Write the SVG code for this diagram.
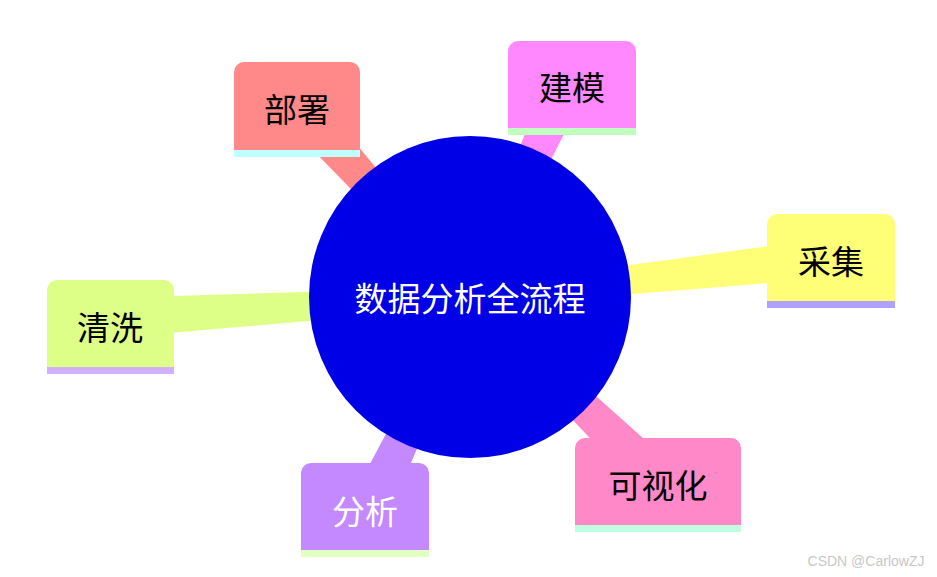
<svg xmlns="http://www.w3.org/2000/svg" width="937" height="577" viewBox="0 0 937 577">
<style>
text{font-family:"Noto Sans CJK SC","Liberation Sans",sans-serif;font-size:33px;text-anchor:middle;dominant-baseline:central}
.d{fill:#000}.w{fill:#fff}
</style>
<rect width="937" height="577" fill="#fff"/>
<g id="connectors">
<polygon points="470.6,307 469.4,287 108.8,298 111.2,338" fill="#ddff88"/>
<polygon points="471,307 469,287 827.8,238.1 832.2,277.9" fill="#ffff77"/>
<polygon points="477.5,290.3 462.5,303.7 287.1,123.4 316.9,96.6" fill="#ff8888"/>
<polygon points="479.1,301.1 460.9,292.9 546.8,79.7 583.2,96.3" fill="#ff88ff"/>
<polygon points="463,304.2 477,289.8 653.9,447.7 626.1,476.3" fill="#ff88c8"/>
<polygon points="461,292.7 479,301.3 393.1,505.6 356.9,488.4" fill="#c488ff"/>
</g>
<g id="center"><circle cx="470" cy="297" r="161" fill="#0000e6"/><text x="470" y="297" class="w">数据分析全流程</text></g>
<g id="bushu"><path d="M234,72a10,10 0 0 1 10,-10h106a10,10 0 0 1 10,10v78h-126z" fill="#ff8888"/><rect x="234" y="150" width="126" height="7" fill="#c0ffff"/><text x="297" y="108" class="d">部署</text></g>
<g id="jianmo"><path d="M508,51a10,10 0 0 1 10,-10h108a10,10 0 0 1 10,10v77h-128z" fill="#ff88ff"/><rect x="508" y="128" width="128" height="7" fill="#c0ffc0"/><text x="572" y="86" class="d">建模</text></g>
<g id="caiji"><path d="M767,224a10,10 0 0 1 10,-10h108a10,10 0 0 1 10,10v77h-128z" fill="#ffff77"/><rect x="767" y="301" width="128" height="7" fill="#b0a0ff"/><text x="831" y="260" class="d">采集</text></g>
<g id="keshihua"><path d="M575,448a10,10 0 0 1 10,-10h146a10,10 0 0 1 10,10v77h-166z" fill="#ff88c8"/><rect x="575" y="525" width="166" height="7" fill="#c0ffe0"/><text x="658" y="484" class="d">可视化</text></g>
<g id="fenxi"><path d="M301,473a10,10 0 0 1 10,-10h108a10,10 0 0 1 10,10v77h-128z" fill="#c488ff"/><rect x="301" y="550" width="128" height="7" fill="#e0ffc0"/><text x="365" y="510" class="w">分析</text></g>
<g id="qingxi"><path d="M47,290a10,10 0 0 1 10,-10h107a10,10 0 0 1 10,10v77h-127z" fill="#ddff88"/><rect x="47" y="367" width="127" height="7" fill="#d0b0ff"/><text x="110" y="326" class="d">清洗</text></g>
<text x="866" y="561" style="font-size:14px;fill:#c8c8c8;font-family:'Liberation Sans',sans-serif">CSDN @CarlowZJ</text>
</svg>
